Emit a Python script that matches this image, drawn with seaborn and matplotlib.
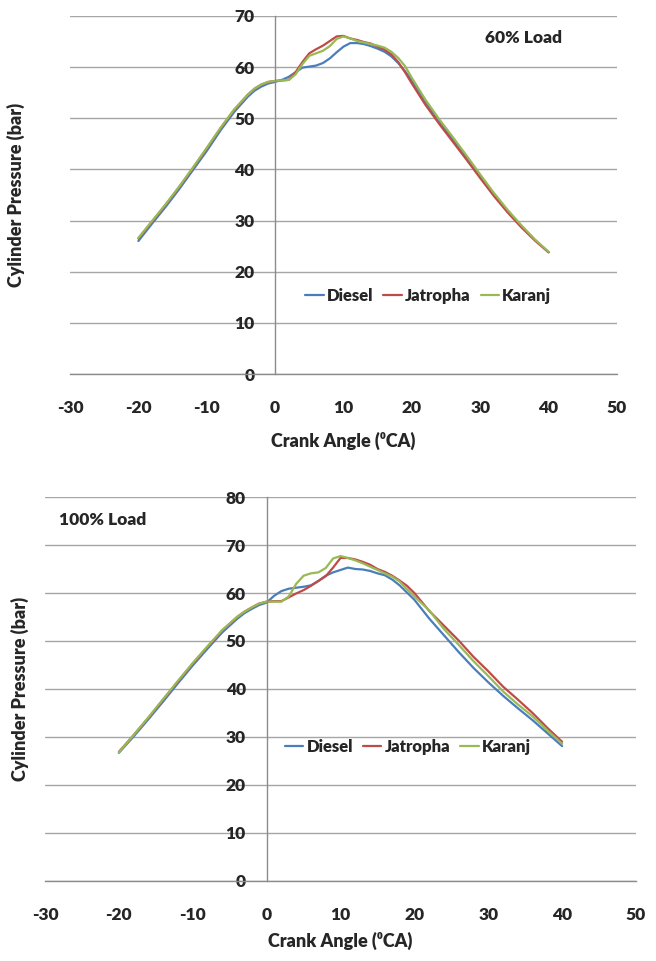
import pandas as pd
import seaborn as sns
import matplotlib.pyplot as plt

# crank angle grid (deg CA), shared by all curves
crank = [-20, -18, -16, -14, -12, -10, -8, -6, -4, -3, -2, -1, 0, 1, 2, 3, 4, 5, 6, 7, 8, 9, 10,
         11, 12, 13, 14, 15, 16, 17, 18, 19, 20, 22, 24, 26, 28, 30, 32, 34, 36, 38, 40]

# 60% load
diesel_60 = [26.0, 29.4, 32.7, 36.2, 39.9, 43.6, 47.6, 51.2, 54.2, 55.4, 56.2, 56.8, 57.1, 57.5, 58.1, 59.0,
             59.9, 60.1, 60.3, 60.8, 61.7, 62.9, 64.0, 64.7, 64.7, 64.5, 64.1, 63.6, 63.0, 62.1, 60.8,
             59.2, 57.4, 53.2, 49.4, 45.9, 42.3, 38.6, 35.1, 31.8, 28.9, 26.2, 23.8]
jatropha_60 = [26.5, 29.8, 33.1, 36.6, 40.3, 44.1, 48.0, 51.6, 54.6, 55.8, 56.6, 57.1, 57.3, 57.4, 57.5, 59.0,
               61.0, 62.7, 63.5, 64.2, 65.1, 66.0, 66.1, 65.6, 65.3, 64.9, 64.6, 64.0, 63.4, 62.5, 61.0,
               59.0, 56.8, 52.6, 48.9, 45.4, 41.9, 38.3, 34.8, 31.6, 28.7, 26.1, 23.8]
karanj_60 = [26.6, 29.9, 33.2, 36.7, 40.4, 44.2, 48.1, 51.7, 54.6, 55.8, 56.6, 57.1, 57.3, 57.4, 57.5, 58.6,
             60.6, 62.2, 62.7, 63.2, 64.1, 65.5, 66.0, 65.6, 65.1, 64.8, 64.5, 64.2, 63.8, 63.0, 61.8,
             60.2, 57.9, 53.6, 49.8, 46.3, 42.7, 39.0, 35.4, 32.1, 29.1, 26.3, 23.9]

# 100% load
diesel_100 = [26.7, 30.1, 33.7, 37.4, 41.2, 44.9, 48.4, 51.8, 54.6, 55.8, 56.7, 57.5, 58.0, 59.4, 60.4, 60.9,
              61.1, 61.3, 61.6, 62.5, 63.6, 64.3, 64.8, 65.3, 65.0, 64.9, 64.6, 64.1, 63.7, 62.8, 61.6,
              60.1, 58.6, 54.7, 51.2, 47.7, 44.4, 41.4, 38.6, 36.0, 33.5, 30.8, 28.1]
jatropha_100 = [26.9, 30.4, 34.0, 37.8, 41.6, 45.3, 48.8, 52.2, 55.0, 56.1, 57.0, 57.8, 58.2, 58.3, 58.3, 59.1,
                59.9, 60.6, 61.5, 62.5, 63.5, 65.3, 67.3, 67.3, 67.0, 66.5, 65.9, 65.0, 64.4, 63.6, 62.6,
                61.5, 60.0, 56.3, 53.2, 50.1, 46.7, 43.7, 40.5, 37.8, 35.0, 31.9, 29.0]
karanj_100 = [26.8, 30.4, 34.1, 37.9, 41.7, 45.4, 48.9, 52.3, 55.0, 56.1, 57.0, 57.8, 58.2, 58.2, 58.2, 59.3,
              61.9, 63.6, 64.1, 64.3, 65.2, 67.2, 67.7, 67.3, 66.8, 66.2, 65.5, 64.8, 64.1, 63.4, 62.4,
              60.8, 59.3, 56.4, 52.5, 49.2, 45.8, 42.7, 39.5, 36.8, 34.3, 31.4, 28.6]

fuels = ['Diesel', 'Jatropha', 'Karanj']
colors = ['#4A7EBB', '#BE4B48', '#98B954']


def make_df(d, j, k):
    n = len(crank)
    return pd.DataFrame({'angle': crank * 3,
                         'pressure': d + j + k,
                         'fuel': [f for f in fuels for _ in range(n)]})


sns.set_theme(style='white')
plt.rcParams['font.family'] = ['Lato', 'DejaVu Sans']
plt.rcParams['axes.unicode_minus'] = False
W = 'heavy'

fig = plt.figure(figsize=(6.56, 9.61), dpi=100)
ax1 = fig.add_axes([0.1067, 0.6108, 0.8338, 0.3726])
ax2 = fig.add_axes([0.0686, 0.0833, 0.9009, 0.3995])


def draw(ax, df, ymax, load, load_xy, load_ha, leg_xy, ylab_x, xlab_y):
    sns.lineplot(data=df, x='angle', y='pressure', hue='fuel', palette=colors,
                 estimator=None, lw=1.6, ax=ax)
    ax.set_xlim(-30, 50)
    ax.set_ylim(0, ymax)
    ax.set_xticks(range(-30, 51, 10))
    ax.set_yticks(range(0, ymax + 1, 10))
    ax.spines['left'].set_position(('data', 0))
    for s in ['top', 'right']:
        ax.spines[s].set_visible(False)
    for s in ['left', 'bottom']:
        ax.spines[s].set_color('#8c8c8c')
        ax.spines[s].set_linewidth(1)
    ax.grid(axis='y', color='#a6a6a6', lw=1)
    ax.set_axisbelow(True)
    ax.tick_params(axis='x', direction='out', length=5, width=1, color='#8c8c8c', pad=14, labelsize=12.5)
    ax.tick_params(axis='y', direction='out', length=5, width=1, color='#8c8c8c', pad=10, labelsize=12.5)
    for t in ax.get_xticklabels() + ax.get_yticklabels():
        t.set_fontweight(W)
    ax.set_xlabel('Crank Angle (\u2070CA)', fontsize=13, fontweight=W)
    ax.set_ylabel('Cylinder Pressure (bar)', fontsize=13, fontweight=W)
    ax.yaxis.set_label_coords(ylab_x, 0.5)
    ax.xaxis.set_label_coords(0.5, xlab_y)
    ax.text(load_xy[0], load_xy[1], load, transform=ax.transAxes, ha=load_ha, va='center',
            fontsize=12.5, fontweight=W)
    ax.legend(loc='center left', bbox_to_anchor=leg_xy, ncol=3, frameon=False,
              handlelength=1.1, handletextpad=0.2, columnspacing=0.6, borderpad=0,
              borderaxespad=0, prop={'size': 12, 'weight': W})


draw(ax1, make_df(diesel_60, jatropha_60, karanj_60), 70, '60% Load', (0.83, 0.9385), 'center',
     (0.43, 0.218), -0.082, -0.162)
draw(ax2, make_df(diesel_100, jatropha_100, karanj_100), 80, '100% Load', (0.0237, 0.94), 'left',
     (0.406, 0.349), -0.027, -0.133)

plt.savefig('out.png', dpi=100)
